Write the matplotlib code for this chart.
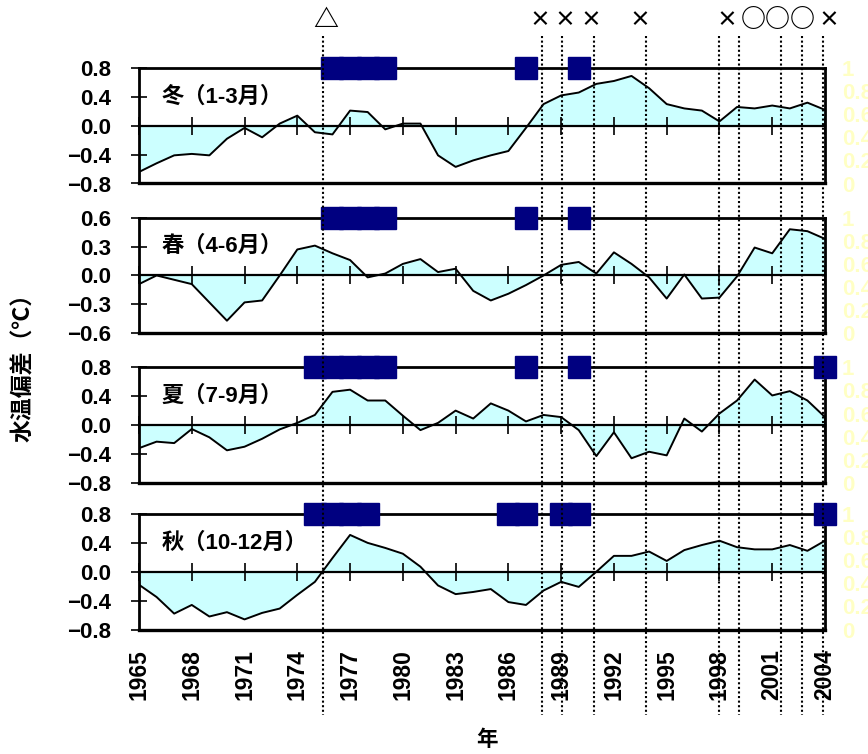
import numpy as np
import matplotlib
matplotlib.use('Agg')
import matplotlib.pyplot as plt
from matplotlib import transforms
from matplotlib.lines import Line2D

plt.rcParams['font.family'] = ['Liberation Sans', 'Noto Sans CJK JP', 'DejaVu Sans']
plt.rcParams['font.weight'] = 'bold'

# ---------------- data ----------------
years = list(range(1965, 2005))

winter = [-0.64, -0.52, -0.41, -0.39, -0.41, -0.18, -0.03, -0.16, 0.03, 0.14,
          -0.09, -0.12, 0.21, 0.19, -0.05, 0.03, 0.03, -0.41, -0.57, -0.48,
          -0.41, -0.35, -0.03, 0.30, 0.42, 0.46, 0.58, 0.62, 0.69, 0.52,
          0.30, 0.24, 0.21, 0.06, 0.26, 0.24, 0.28, 0.24, 0.32, 0.22]
spring = [-0.09, 0.00, -0.045, -0.09, -0.28, -0.47, -0.28, -0.26, 0.00, 0.27,
          0.31, 0.23, 0.16, -0.02, 0.02, 0.12, 0.17, 0.035, 0.07, -0.16,
          -0.26, -0.19, -0.10, 0.00, 0.11, 0.14, 0.02, 0.24, 0.12, -0.02,
          -0.24, 0.01, -0.24, -0.23, -0.01, 0.29, 0.23, 0.48, 0.46, 0.38]
summer = [-0.32, -0.23, -0.25, -0.055, -0.17, -0.35, -0.30, -0.19, -0.06, 0.03,
          0.14, 0.46, 0.49, 0.34, 0.34, 0.13, -0.07, 0.03, 0.20, 0.09,
          0.30, 0.20, 0.05, 0.14, 0.11, -0.07, -0.43, -0.10, -0.46, -0.37,
          -0.42, 0.09, -0.09, 0.16, 0.34, 0.63, 0.41, 0.47, 0.34, 0.11]
autumn = [-0.18, -0.35, -0.58, -0.46, -0.62, -0.56, -0.66, -0.57, -0.51, -0.32,
          -0.14, 0.19, 0.51, 0.40, 0.33, 0.25, 0.07, -0.19, -0.31, -0.28,
          -0.24, -0.42, -0.46, -0.26, -0.14, -0.21, 0.00, 0.22, 0.22, 0.28,
          0.15, 0.30, 0.37, 0.43, 0.34, 0.31, 0.31, 0.37, 0.29, 0.43]

season_labels = ['冬（1-3月）', '春（4-6月）', '夏（7-9月）', '秋（10-12月）']
season_values = [winter, spring, summer, autumn]
season_limits = [0.8, 0.6, 0.8, 0.8]
season_yticks = [[-0.8, -0.4, 0.0, 0.4, 0.8],
                 [-0.6, -0.3, 0.0, 0.3, 0.6],
                 [-0.8, -0.4, 0.0, 0.4, 0.8],
                 [-0.8, -0.4, 0.0, 0.4, 0.8]]
season_label_y = [0.4, 0.3, 0.4, 0.4]

# years flagged with blue squares (secondary axis value 1)
flag_winter = [1976, 1977, 1978, 1979, 1987, 1990]
flag_spring = [1976, 1977, 1978, 1979, 1987, 1990]
flag_summer = [1975, 1976, 1977, 1978, 1979, 1987, 1990, 2004]
flag_autumn = [1975, 1976, 1977, 1978, 1986, 1987, 1989, 1990, 2004]
season_flags = [flag_winter, flag_spring, flag_summer, flag_autumn]

# event lines and symbols at the top
event_lines = [1975.45, 1987.9, 1989.07, 1990.87, 1993.8, 1998.0, 1999.1, 2001.5, 2002.7, 2003.9]
event_symbols = ['△', '×', '×', '×', '×', '×', '○', '○', '○', '×']
event_symbol_x = [1975.6, 1987.8, 1989.2, 1990.7, 1993.5, 1998.4, 1999.9, 2001.3, 2002.7, 2004.2]

xticks = list(range(1965, 2005, 3))
xtick_labels = [str(y) for y in xticks]
sec_ticks = [0, 0.2, 0.4, 0.6, 0.8, 1.0]
sec_labels = ['0', '0.2', '0.4', '0.6', '0.8', '1']

# ---------------- figure ----------------
W, H = 868, 754
fig = plt.figure(figsize=(W / 100, H / 100), dpi=100)

LEFT, RIGHT = 139, 825
tops = [68, 217.7, 367.3, 514]
PH = 115.5

def fmt(v):
    s = f'{v:.1f}'
    if s == '-0.0':
        s = '0.0'
    return s.replace('-', '\u2212')

axes = []
for i in range(4):
    top = tops[i]
    ax = fig.add_axes([LEFT / W, 1 - (top + PH) / H, (RIGHT - LEFT) / W, PH / H])
    axes.append(ax)
    vals = season_values[i]
    lim = season_limits[i]
    ax.fill_between(years, vals, 0, color='#CCFFFF', lw=0, zorder=1)
    ax.plot(years, vals, color='black', lw=1.4, zorder=3)
    ax.set_xlim(1965, 2004)
    ax.set_ylim(-lim, lim)
    ax.spines['bottom'].set_position(('data', 0))
    ax.spines['bottom'].set_linewidth(1.6)
    ax.spines['bottom'].set_zorder(4)
    for s in ['left', 'top', 'right']:
        ax.spines[s].set_linewidth(2.0)
    ax.axhline(-lim, color='black', lw=2.4, clip_on=False, zorder=4)
    ax.set_xticks(xticks)
    ax.tick_params(axis='x', direction='inout', length=12.7, width=1.2,
                   labelbottom=False)
    ax.set_yticks(season_yticks[i])
    ax.set_yticklabels([fmt(v) for v in season_yticks[i]])
    ax.tick_params(axis='y', direction='inout', length=11.5, width=1.2,
                   pad=14.5, labelsize=16)
    ax.text(1966.3, season_label_y[i], season_labels[i], fontsize=16,
            fontweight='bold', ha='left', va='center', zorder=6)

    ax2 = ax.twinx()
    ax2.set_ylim(0, 1)
    ax2.set_yticks(sec_ticks)
    ax2.set_yticklabels(sec_labels)
    ax2.tick_params(axis='y', length=0, pad=12, labelsize=16,
                    labelcolor='#FFFFC4')
    for s in ax2.spines.values():
        s.set_visible(False)
    fl = season_flags[i]
    ax2.plot(fl, [1] * len(fl), 's', ms=15.5, color='#000080', mec='#000080',
             clip_on=False, zorder=5)

    if i == 3:
        sec = ax.secondary_xaxis(0.0)
        sec.set_xticks(xticks)
        sec.set_xticklabels(xtick_labels)
        sec.tick_params(length=0, pad=14, labelsize=16.5, rotation=90)
        for s in sec.spines.values():
            s.set_visible(False)

trans = transforms.blended_transform_factory(axes[0].transData, fig.transFigure)
for yr in event_lines:
    ln = Line2D([yr, yr], [1 - 36 / H, 1 - 715 / H], transform=trans,
                color='black', lw=1.5, ls=(0, (1, 1.2)), zorder=10)
    fig.add_artist(ln)
for sym, xs in zip(event_symbols, event_symbol_x):
    size = 18 if sym != '×' else 15
    fig.text(xs, 1 - 20 / H, sym, transform=trans, ha='center', va='center',
             fontsize=size, family=['Noto Sans CJK JP', 'DejaVu Sans'],
             fontweight='bold')

fig.text(24 / W, 1 - 362 / H, '水温偏差（℃）', rotation=90, ha='center',
         va='center', fontsize=16.5, fontweight='bold',
         family=['Noto Sans CJK JP', 'DejaVu Sans'])
fig.text(487 / W, 1 - 740 / H, '年', ha='center', va='center', fontsize=15.5,
         fontweight='bold', family=['Noto Sans CJK JP', 'DejaVu Sans'])

fig.savefig('out.png', dpi=100)
